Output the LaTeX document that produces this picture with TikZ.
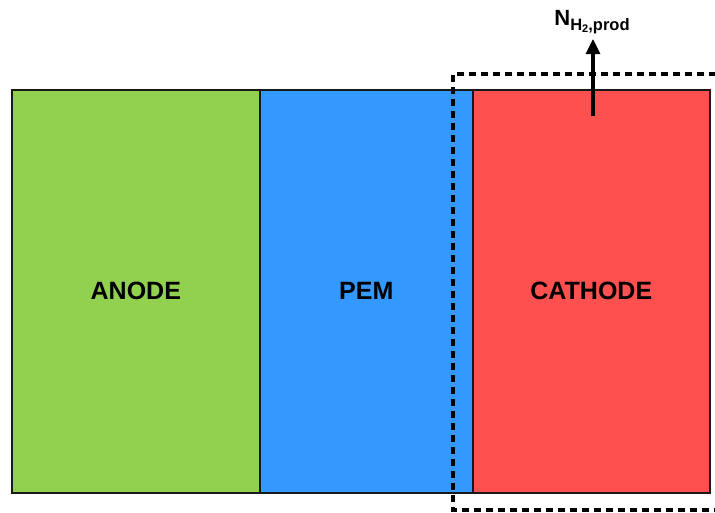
\documentclass[tikz,border=0pt]{standalone}
\usepackage{fontspec}
\setmainfont{Liberation Sans}
\usetikzlibrary{arrows.meta}
\definecolor{anodegreen}{HTML}{92D050}
\definecolor{pemblue}{HTML}{3399FF}
\definecolor{cathred}{HTML}{FF5050}
\begin{document}
\begin{tikzpicture}[x=1pt,y=-1pt,
  layer/.style={draw=black!90, line width=1.6pt, anchor=north west, minimum height=403pt,
    inner sep=0pt, font=\fontsize{25}{25}\selectfont\bfseries},
  ctrl/.style={line width=3.5pt, dash pattern=on 7pt off 5pt},
  flow/.style={line width=3.2pt, -{Triangle[length=15pt,width=14pt]}}]
\useasboundingbox (0,0) rectangle (715,512);
\node[layer, fill=anodegreen, minimum width=248pt] (anode) at (11,89) {ANODE};
\node[layer, fill=pemblue, minimum width=213pt] (pem) at (259,89) {PEM};
\node[layer, fill=cathred, minimum width=237pt] (cathode) at (472,89) {CATHODE};
\coordinate (cvA) at (716,74);
\coordinate (cvB) at (453,74);
\coordinate (cvC) at (453,510);
\coordinate (cvD) at (716,510);
\draw[ctrl] (cvA) -- (cvB) -- (cvC) -- (cvD);
\coordinate (arrstart) at (593,116);
\coordinate (arrtip) at (593,39);
\draw[flow] (arrstart) -- (arrtip);
\node[font=\bfseries, inner sep=0pt, anchor=base] (nlabel) at (592,25.5)
  {{\fontsize{22}{22}\selectfont N}\raisebox{-4.5pt}{\fontsize{16.5}{16.5}\selectfont H\raisebox{-2pt}{\fontsize{11}{11}\selectfont 2},prod}};
\end{tikzpicture}
\end{document}
